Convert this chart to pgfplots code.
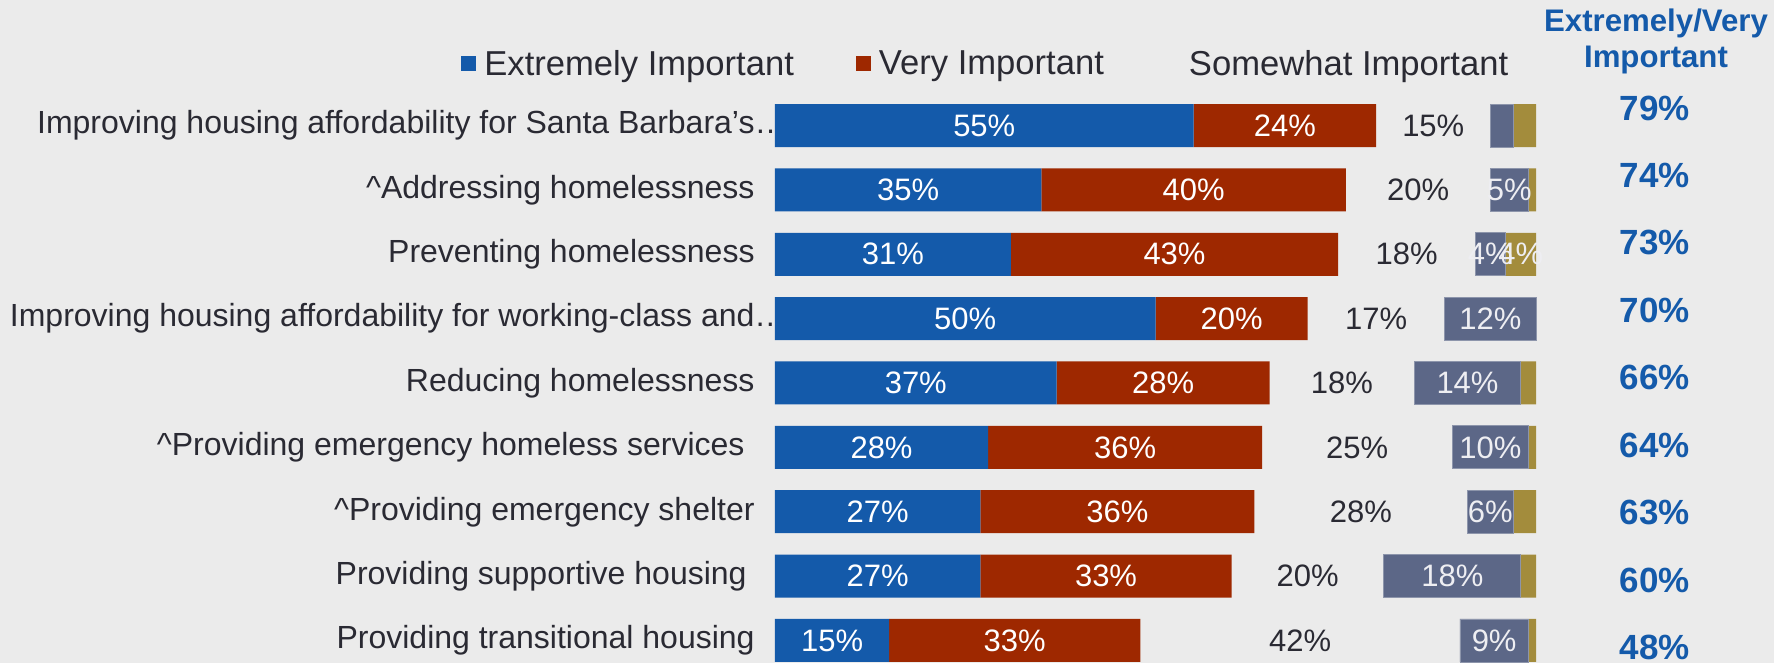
\documentclass[border=0pt]{standalone}
\usepackage{pgfplots}
\pgfplotsset{compat=1.18}
\usepackage{pgfplotstable}
\usepackage{fontspec}
\setmainfont{Liberation Sans}
\definecolor{bgc}{HTML}{EBEBEB}
\definecolor{cE}{HTML}{145AAA}
\definecolor{cV}{HTML}{9E2800}
\definecolor{cG}{HTML}{5C6787}
\definecolor{cD}{HTML}{A38C3C}
\definecolor{txt}{HTML}{2A2A33}
\definecolor{bluetxt}{HTML}{145AAA}
\definecolor{lightlab}{HTML}{EEEEF2}

\pgfplotstableread{
idx e v s sp g d tot ty
0 55 24 15 15 3 3 79 -0.273
1 35 40 20 19 5 1 74 0.775
2 31 43 18 18 4 4 73 1.823
3 50 20 17 18 12 0 70 2.871
4 37 28 18 19 14 2 66 3.919
5 28 36 25 25 10 1 64 4.967
6 27 36 28 28 6 3 63 6.015
7 27 33 20 20 18 2 60 7.063
8 15 33 42 42 9 1 48 8.111
}\data

\pgfplotsset{
  myframe/.style={
    at={(387.5pt,0pt)}, anchor=south west,
    scale only axis, width=380.5pt, height=331.5pt,
    xmin=0, xmax=100, ymin=-1.95, ymax=8.35, y dir=reverse, clip=false},
  lab/.style={draw=none, mark=none, point meta=explicit,
    nodes near coords={\pgfmathprintnumber{\pgfplotspointmeta}\%},
    every node near coord/.append style={anchor=center, inner sep=0pt,
      font=\fontsize{15.5}{18}\selectfont}},
}

\begin{document}
\begin{tikzpicture}
\path[use as bounding box, fill=bgc] (0,0) rectangle (887pt,331.5pt);
\begin{axis}[
  myframe,
  xbar stacked, bar width=21.5pt,
  axis line style={draw=none}, major tick length=0pt,
  xtick=\empty, ytick={0,1,2,3,4,5,6,7,8},
  yticklabels={
    {Improving housing affordability for Santa Barbara’s…\hspace*{-16pt}},
    {\textasciicircum Addressing homelessness},
    {Preventing homelessness},
    {Improving housing affordability for working-class and…\hspace*{-16pt}},
    {Reducing homelessness},
    {\textasciicircum Providing emergency homeless services\hspace*{5pt}},
    {\textasciicircum Providing emergency shelter},
    {Providing supportive housing\hspace*{4pt}},
    {Providing transitional housing}},
  yticklabel style={anchor=east, inner sep=0pt, xshift=-10pt, font=\fontsize{16}{19}\selectfont, text=txt},
  legend columns=-1,
  legend style={draw=none, fill=none, inner sep=0pt, at={(-0.4126,0.9035)}, anchor=west,
    font=\fontsize{17.3}{20}\selectfont, text=txt,
    nodes={inner xsep=4pt},
    /tikz/every even column/.append style={column sep=27pt}},
  legend cell align=left,
  legend image code/.code={\path[#1,draw=none] (0pt,-3.75pt) rectangle (7.5pt,3.75pt);},
]
\addplot[fill=cE, draw=none] table[x=e, y=idx]{\data};
\addplot[fill=cV, draw=none] table[x=v, y=idx]{\data};
\addplot[fill=none, draw=none] table[x=sp, y=idx]{\data};
\addplot[fill=cG, draw=cG!70!white, line width=0.4pt] table[x=g, y=idx]{\data};
\addplot[fill=cD, draw=none] table[x=d, y=idx]{\data};
\legend{Extremely Important, Very Important, Somewhat Important}
\end{axis}
\begin{axis}[myframe, hide axis, /pgf/number format/assume math mode=true]
\addplot[lab, every node near coord/.append style={text=white}]
  table[x expr=\thisrow{e}/2, y=idx, meta=e]{\data};
\addplot[lab, every node near coord/.append style={text=white}]
  table[x expr=\thisrow{e}+\thisrow{v}/2, y=idx, meta=v]{\data};
\addplot[lab, every node near coord/.append style={text=txt}]
  table[x expr=\thisrow{e}+\thisrow{v}+\thisrow{sp}/2, y=idx, meta=s]{\data};
\addplot[lab, visualization depends on={\thisrow{g}>3.5\as\og},
  every node near coord/.append style={text=lightlab, text opacity=\og}]
  table[x expr=100-\thisrow{d}-\thisrow{g}/2, y=idx, meta=g]{\data};
\addplot[lab, visualization depends on={\thisrow{d}>3.5\as\od},
  every node near coord/.append style={text=lightlab, text opacity=\od}]
  table[x expr=100-\thisrow{d}/2, y=idx, meta=d]{\data};
\addplot[lab, every node near coord/.append style={font=\bfseries\fontsize{17.5}{20}\selectfont, text=bluetxt}]
  table[x expr=115.6, y=ty, meta=tot]{\data};
\end{axis}
\node[font=\bfseries\fontsize{15.6}{18}\selectfont, text=bluetxt, anchor=base] at (828pt,315.5pt) {Extremely/Very};
\node[font=\bfseries\fontsize{15.6}{18}\selectfont, text=bluetxt, anchor=base] at (828pt,297.5pt) {Important};
\end{tikzpicture}
\end{document}
